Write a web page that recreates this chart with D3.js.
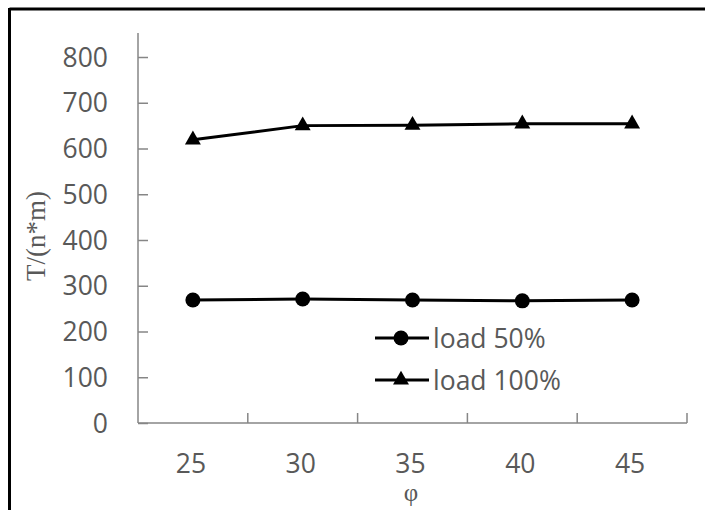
<!DOCTYPE html>
<html>
<head>
<meta charset="utf-8">
<script src="https://cdn.jsdelivr.net/npm/d3@7"></script>
<style>
html,body{margin:0;padding:0;background:#fff;}
svg{display:block;}
</style>
</head>
<body>
<svg id="chart" width="705" height="510"></svg>
<script>
const categories = ["25", "30", "35", "40", "45"];
const load50 = [269, 271, 269, 267, 269];
const load100 = [619, 650, 651, 654, 654];
const yTicks = [0, 100, 200, 300, 400, 500, 600, 700, 800];
const seriesNames = ["load 50%", "load 100%"];

(function () {
const svg = d3.select("#chart");
const pLeft = 138, pRight = 687, pTop = 57, pBottom = 423;
const x = d3.scaleBand().domain(categories).range([pLeft, pRight]);
const y = d3.scaleLinear().domain([0, 800]).range([pBottom, pTop]);
const axisColor = "#868686";
const textColor = "#595959";
const font = "'Open Sans', 'Segoe UI', sans-serif";
const fs = 26.5;

// outer frame (partially visible)
svg.append("line").attr("x1", 9.5).attr("x2", 705).attr("y1", 9).attr("y2", 9)
  .attr("stroke", "#000").attr("stroke-width", 3);
svg.append("line").attr("x1", 9.5).attr("x2", 9.5).attr("y1", 8).attr("y2", 510)
  .attr("stroke", "#000").attr("stroke-width", 3);

// y axis
const yAxis = d3.axisRight(y).tickValues(yTicks).tickSize(10).tickFormat("");
const gy = svg.append("g").attr("transform", `translate(${pLeft},0)`).call(yAxis);
gy.select(".domain").remove();
gy.selectAll(".tick line").attr("stroke", axisColor).attr("stroke-width", 1.5);
svg.append("line").attr("x1", pLeft).attr("x2", pLeft).attr("y1", 33).attr("y2", pBottom)
  .attr("stroke", axisColor).attr("stroke-width", 1.5);
svg.append("g").selectAll("text").data(yTicks).join("text")
  .attr("x", 108).attr("y", d => y(d)).attr("dy", "0.36em")
  .attr("text-anchor", "end").attr("font-family", font).attr("font-size", fs)
  .attr("fill", textColor).text(d => d);

// x axis
const xAxis = d3.axisTop(x).tickSize(0).tickFormat("");
const gx = svg.append("g").attr("transform", `translate(0,${pBottom})`).call(xAxis);
gx.select(".domain").attr("stroke", axisColor).attr("stroke-width", 1.5).attr("d", `M${pLeft},0H${pRight}`);
const bounds = categories.map(c => x(c) + x.bandwidth());
svg.append("g").selectAll("line").data(bounds).join("line")
  .attr("x1", d => d).attr("x2", d => d).attr("y1", pBottom - 10).attr("y2", pBottom)
  .attr("stroke", axisColor).attr("stroke-width", 1.5);
svg.append("g").selectAll("text").data(categories).join("text")
  .attr("x", d => x(d) + x.bandwidth() / 2 - 2).attr("y", 463).attr("dy", "0.36em")
  .attr("text-anchor", "middle").attr("font-family", font).attr("font-size", fs)
  .attr("fill", textColor).text(d => d);

// axis titles
svg.append("text").attr("transform", "translate(36,236) rotate(-90)")
  .attr("text-anchor", "middle").attr("dy", "0.35em")
  .attr("font-family", "'Liberation Serif', 'Times New Roman', serif").attr("font-size", 27)
  .attr("fill", textColor).text("T/(n*m)");
svg.append("text").attr("x", 411).attr("y", 492).attr("dy", "0.35em")
  .attr("text-anchor", "middle")
  .attr("font-family", "'Liberation Serif', 'Times New Roman', serif").attr("font-size", 25)
  .attr("fill", textColor).text("φ");

const cx = d => x(d) + x.bandwidth() / 2;
const line = d3.line().x((d, i) => cx(categories[i])).y(d => y(d));
const tri = d3.symbol().type(d3.symbolTriangle).size(110);

function drawSeries(vals, marker) {
  svg.append("path").datum(vals).attr("d", line).attr("fill", "none")
    .attr("stroke", "#000").attr("stroke-width", 3);
  const g = svg.append("g");
  if (marker === "circle") {
    g.selectAll("circle").data(vals).join("circle")
      .attr("cx", (d, i) => cx(categories[i])).attr("cy", d => y(d)).attr("r", 7.5).attr("fill", "#000");
  } else {
    g.selectAll("path").data(vals).join("path")
      .attr("transform", (d, i) => `translate(${cx(categories[i])},${y(d)})`)
      .attr("d", tri).attr("fill", "#000");
  }
}
drawSeries(load50, "circle");
drawSeries(load100, "triangle");

// legend
const legendRows = [{name: seriesNames[0], marker: "circle", y: 338}, {name: seriesNames[1], marker: "triangle", y: 380}];
const lg = svg.append("g");
legendRows.forEach(r => {
  lg.append("line").attr("x1", 375).attr("x2", 429).attr("y1", r.y).attr("y2", r.y)
    .attr("stroke", "#000").attr("stroke-width", 3);
  if (r.marker === "circle") {
    lg.append("circle").attr("cx", 401).attr("cy", r.y).attr("r", 7.5).attr("fill", "#000");
  } else {
    lg.append("path").attr("transform", `translate(401,${r.y})`).attr("d", tri).attr("fill", "#000");
  }
  lg.append("text").attr("x", 433).attr("y", r.y).attr("dy", "0.36em")
    .attr("font-family", font).attr("font-size", fs).attr("fill", textColor).text(r.name);
});
})();
</script>
</body>
</html>
